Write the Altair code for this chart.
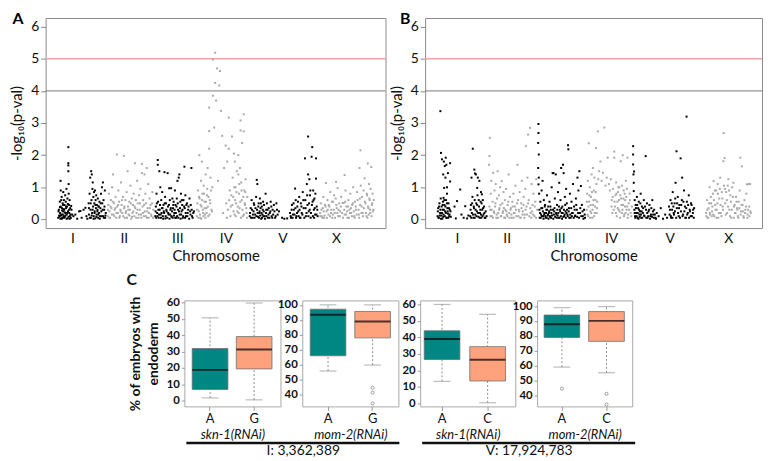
import json
import altair as alt
import pandas as pd

# ---------------- Manhattan data ----------------
CHROMS = ["I", "II", "III", "IV", "V", "X"]
SHADES = ["black", "gray", "black", "gray", "black", "gray"]
RED_LINE = 5
GRAY_LINE = 4
Y_TICKS = [0, 1, 2, 3, 4, 5, 6]
X_DOMAIN = [-3.75, 103.4]
Y_DOMAIN = [-0.27, 6.27]
A_TICK_POS = [4.68, 20.9, 37.8, 53.1, 70.9, 87.8]
B_TICK_POS = [6.4, 22.2, 38.9, 55.4, 74.0, 92.7]

A_I = [(0.2,0.05),(0.4,0.3),(0.5,0.12),(0.7,0.55),(0.8,0.2),(0.9,0.02),(0.94,1.2),(1.0,0.4),(1.0,0.9),(1.2,0.15),(1.3,0.7),
       (1.4,0.35),(1.5,0.05),(1.6,0.5),(1.7,0.25),(1.8,0.85),(1.9,0.1),(2.0,0.6),(2.1,0.3),(2.2,0.45),(2.3,0.08),(2.4,0.75),
       (2.5,0.2),(2.6,0.55),(2.7,0.35),(2.8,0.95),(2.9,0.15),(3.0,0.4),(3.1,0.65),(3.2,0.03),(3.3,0.25),(3.4,2.25),(3.4,1.75),
       (3.4,1.68),(3.4,1.5),(3.5,1.1),(3.5,0.8),(3.6,0.45),(3.7,0.2),(3.8,0.6),(3.9,0.1),(4.0,0.35),(4.2,0.05),(4.4,0.3),(4.6,0.15),
       (5.0,0.1),(5.6,0.15),(6.2,0.02),(6.8,0.25),(7.2,0.26),(7.6,0.05),(8.2,0.3),(8.8,0.36),(9.1,0.1),(9.4,0.02),
       (9.8,0.5),(9.9,0.15),(10.1,0.8),(10.3,1.3),(10.4,0.3),(10.5,0.05),(10.6,1.5),(10.7,0.6),(10.8,1.4),(10.9,0.2),(11.0,0.95),
       (11.1,1.15),(11.2,0.4),(11.3,0.7),(11.4,0.1),(11.5,0.85),(11.6,0.5),(11.7,0.25),(11.8,0.9),(11.9,0.03),(12.0,0.6),(12.1,0.35),
       (12.2,0.75),(12.3,0.15),(12.4,0.45),(12.6,0.3),(12.7,0.65),(12.8,0.05),(12.9,0.4),(13.1,0.2),(13.2,0.55),(13.4,0.1),(13.5,0.35),
       (13.7,0.8),(13.8,0.25),(14.0,1.0),(14.1,0.5),(14.3,1.15),(14.4,0.1),(14.5,0.6),(14.7,0.3),(14.9,0.9),(15.0,0.05),(15.2,0.2)]
A_I_BASE = [(0.3,0.25),(0.6,0.08),(0.75,0.38),(1.05,0.12),(1.15,0.6),(1.35,0.02),(1.45,0.28),(1.65,0.15),(1.75,0.45),(1.95,0.32),
            (2.05,0.05),(2.25,0.22),(2.45,0.12),(2.65,0.4),(2.85,0.02),(3.05,0.2),(3.25,0.48),(3.45,0.08),(3.65,0.3),(3.85,0.02),
            (4.05,0.15),(4.3,0.42),(9.9,0.35),(10.2,0.05),(10.45,0.5),(10.75,0.12),(11.05,0.3),(11.35,0.02),(11.65,0.2),(11.95,0.45),
            (12.25,0.08),(12.55,0.25),(12.85,0.15),(13.0,0.4),(13.3,0.02),(13.6,0.5),(13.9,0.1),(14.2,0.3),(14.6,0.05),(14.8,0.4),(15.1,0.12)]
A_II = [(15.8,0.1),(16.0,0.45),(16.2,0.8),(16.4,0.25),(16.6,0.05),(16.8,0.6),(17.0,0.35),(17.2,1.0),(17.5,1.4),(17.6,0.15),(17.8,0.5),
        (18.0,0.3),(18.3,0.7),(18.5,0.05),(18.7,2.02),(18.8,0.4),(19.0,0.2),(19.2,0.9),(19.4,0.55),(19.6,0.1),(19.8,0.3),(20.0,1.15),
        (20.2,0.45),(20.4,0.2),(20.6,0.7),(20.9,1.98),(21.0,0.35),(21.2,0.05),(21.4,0.6),(21.6,0.25),(21.8,0.85),(22.1,1.5),(22.2,0.4),
        (22.4,0.15),(22.6,0.55),(22.8,0.3),(23.0,1.05),(23.2,0.02),(23.4,0.65),(23.6,0.2),(23.8,0.45),(24.0,0.8),(24.2,0.1),(24.4,1.75),
        (24.5,0.35),(24.7,0.6),(24.9,0.2),(25.1,1.2),(25.3,0.5),(25.5,0.05),(25.7,0.75),(25.9,0.3),(26.1,0.95),(26.3,0.15),(26.6,1.73),
        (26.6,1.44),(26.8,0.4),(27.0,0.6),(27.2,0.1),(27.4,1.4),(27.5,0.25),(27.7,0.8),(27.9,0.5),(28.1,1.6),(28.2,0.05),(28.4,0.35),
        (28.6,1.1),(28.8,0.2),(29.0,0.65),(29.3,0.45),(29.6,0.1),(29.9,0.85),(30.2,0.3)]
A_II_BASE = [(15.9,0.3),(16.3,0.05),(16.7,0.4),(17.1,0.15),(17.4,0.55),(17.9,0.1),(18.2,0.35),(18.6,0.2),(19.1,0.45),(19.5,0.05),
             (19.9,0.25),(20.3,0.6),(20.7,0.1),(21.1,0.4),(21.5,0.2),(21.9,0.05),(22.3,0.3),(22.7,0.12),(23.1,0.5),(23.5,0.08),
             (23.9,0.25),(24.3,0.4),(24.8,0.05),(25.2,0.3),(25.6,0.15),(26.0,0.5),(26.4,0.05),(26.9,0.2),(27.3,0.45),(27.8,0.1),
             (28.3,0.25),(28.7,0.05),(29.1,0.35),(29.5,0.15),(29.8,0.5),(30.1,0.05)]
A_III = [(30.8,0.1),(31.0,0.4),(31.2,0.8),(31.4,0.2),(31.6,1.85),(31.6,1.7),(31.7,0.55),(31.9,0.05),(32.1,1.5),(32.2,0.3),(32.4,1.0),
         (32.5,0.15),(32.7,0.6),(32.9,0.35),(33.0,0.85),(33.2,0.1),(33.4,0.45),(33.6,0.2),(33.7,1.47),(33.9,0.7),(34.0,0.03),(34.2,0.5),
         (34.4,0.25),(34.7,1.44),(34.8,0.4),(35.0,0.15),(35.2,0.97),(35.4,0.6),(35.6,0.3),(35.8,0.97),(36.0,0.08),(36.2,0.65),(36.4,0.35),
         (36.6,0.55),(36.8,0.2),(37.0,0.9),(37.2,0.45),(37.4,0.05),(37.6,0.65),(37.8,1.2),(38.0,0.3),(38.2,1.3),(38.4,1.4),(38.5,0.15),
         (38.7,0.55),(38.9,0.8),(39.1,0.25),(39.3,0.45),(39.5,0.05),(39.7,0.6),(40.0,1.64),(40.1,0.35),(40.3,0.75),(40.5,0.1),(40.8,0.5),
         (41.0,0.2),(41.3,0.4),(41.6,0.65),(41.9,0.15),(42.2,1.6),(42.3,0.3),(42.6,0.05),(43.0,0.25)]
A_III_BASE = [(30.9,0.25),(31.1,0.05),(31.3,0.5),(31.5,0.1),(31.8,0.3),(32.0,0.15),(32.3,0.45),(32.6,0.05),(32.8,0.2),(33.1,0.35),
              (33.3,0.02),(33.5,0.25),(33.8,0.5),(34.1,0.1),(34.3,0.3),(34.6,0.05),(34.9,0.2),(35.1,0.45),(35.3,0.02),(35.5,0.15),
              (35.7,0.35),(35.9,0.1),(36.1,0.25),(36.3,0.05),(36.5,0.45),(36.7,0.12),(36.9,0.3),(37.1,0.05),(37.3,0.2),(37.5,0.4),
              (37.7,0.1),(37.9,0.5),(38.1,0.05),(38.3,0.25),(38.6,0.35),(38.8,0.02),(39.0,0.15),(39.2,0.6),(39.4,0.3),(39.6,0.1),
              (39.9,0.4),(40.2,0.05),(40.4,0.2),(40.6,0.45),(40.9,0.1),(41.2,0.3),(41.5,0.02),(41.8,0.25),(42.0,0.45),(42.4,0.1),(42.8,0.2)]
A_IV = [(43.9,0.1),(44.1,0.5),(44.3,0.9),(44.5,0.25),(44.7,2.0),(44.8,0.65),(45.0,0.05),(45.2,1.2),(45.4,0.4),(45.5,1.8),(45.7,0.8),
        (45.9,0.2),(46.1,1.05),(46.3,0.55),(46.5,0.15),(46.7,1.4),(46.9,0.35),(47.1,0.75),(47.3,1.6),(47.5,0.1),(47.8,2.2),(47.8,2.75),
        (47.8,3.48),(48.0,0.6),(48.2,1.3),(48.5,0.3),(48.8,1.0),(49.0,3.85),(49.0,4.98),(49.4,2.86),(49.7,5.19),(49.7,4.25),(50.0,3.7),
        (50.3,4.7),(50.6,1.2),(51.0,4.17),(51.2,4.62),(51.5,3.38),(51.9,2.6),(52.2,0.2),(52.5,1.6),(53.0,2.3),(53.4,0.05),(53.5,1.8),
        (54.0,3.17),(54.0,2.2),(54.3,0.9),(54.6,0.4),(55.0,2.58),(55.2,1.3),(55.4,0.7),(55.6,2.05),(55.8,0.15),(55.9,1.8),(56.1,1.0),
        (56.3,0.5),(56.5,1.5),(56.7,0.25),(57.0,2.0),(57.0,1.4),(57.2,0.8),(57.4,0.35),(57.5,1.6),(57.7,3.08),(57.7,2.77),(57.9,1.15),
        (58.1,0.6),(58.2,2.38),(58.4,0.1),(58.7,2.74),(58.7,3.27),(58.9,0.9),(59.1,0.45),(59.3,1.25),(59.6,0.2),(59.8,0.7)]
A_IV_BASE = [(44.0,0.3),(44.4,0.05),(44.6,0.7),(44.9,0.15),(45.1,0.45),(45.3,0.02),(45.6,0.6),(45.8,0.3),(46.0,0.1),(46.2,0.8),
             (46.4,0.35),(46.6,0.05),(46.8,0.55),(47.0,0.2),(47.2,0.95),(47.4,0.4),(47.6,0.7),(47.9,0.15),(48.1,0.5),(48.4,0.9),
             (48.7,0.25),(53.2,0.5),(53.7,0.3),(54.1,0.6),(54.5,0.1),(54.8,0.75),(55.1,0.45),(55.5,0.25),(55.7,1.0),(56.0,0.6),
             (56.2,0.1),(56.4,0.85),(56.8,0.4),(57.1,0.2),(57.3,1.1),(57.6,0.55),(57.8,0.05),(58.0,0.9),(58.3,0.3),(58.6,0.7),
             (58.8,0.15),(59.0,0.5),(59.2,0.85),(59.5,0.35),(59.7,0.05)]
A_V = [(60.6,0.1),(60.9,0.35),(61.2,0.6),(61.5,0.05),(61.8,0.25),(62.0,0.45),(62.3,0.15),(62.6,0.7),(62.8,1.23),(62.9,0.3),(63.0,1.1),
       (63.2,0.08),(63.4,0.5),(63.6,0.2),(63.8,0.65),(64.0,0.35),(64.2,0.02),(64.4,0.4),(64.6,0.15),(64.8,0.55),(65.0,0.25),(65.3,0.1),
       (65.6,0.8),(65.8,0.3),(66.0,0.5),(66.3,0.05),(66.6,0.35),(66.9,0.2),(67.2,0.55),(67.5,0.1),(67.8,0.3),(68.2,0.45),(68.6,0.05),
       (69.0,0.5),(69.4,0.15),(69.8,0.25),(70.8,0.05),(71.5,0.02),(72.4,0.03),(73.3,0.2),(73.6,0.05),(73.9,0.45),(74.2,0.15),(74.5,0.3),
       (74.9,0.96),(75.1,0.6),(75.3,0.1),(75.6,0.4),(75.9,0.25),(76.2,0.7),(76.4,0.05),(76.7,0.5),(77.0,0.2),(77.3,0.85),(77.6,0.35),
       (78.0,1.9),(78.1,0.6),(78.3,0.1),(78.6,1.1),(78.8,0.45),(79.0,2.58),(79.0,1.4),(79.2,0.25),(79.4,1.25),(79.6,0.75),(79.8,0.05),
       (80.1,1.95),(80.3,2.25),(80.4,0.55),(80.6,0.9),(80.8,0.3),(81.0,0.65),(81.2,0.15),(81.5,1.9),(81.5,1.27),(81.7,0.4),(82.0,0.1)]
A_V_BASE = [(60.7,0.2),(61.0,0.05),(61.3,0.3),(61.6,0.15),(61.9,0.5),(62.1,0.05),(62.4,0.35),(62.7,0.1),(63.1,0.2),(63.3,0.4),
            (63.5,0.05),(63.7,0.25),(63.9,0.12),(64.1,0.5),(64.3,0.2),(64.5,0.05),(64.7,0.3),(64.9,0.1),(65.1,0.45),(65.4,0.02),
            (65.7,0.2),(65.9,0.1),(66.2,0.3),(66.5,0.15),(66.8,0.05),(67.1,0.25),(67.4,0.4),(67.7,0.05),(68.0,0.15),(68.4,0.25),
            (68.8,0.1),(69.2,0.3),(73.5,0.1),(73.8,0.3),(74.1,0.05),(74.4,0.5),(74.7,0.15),(75.0,0.35),(75.2,0.05),(75.5,0.2),
            (75.8,0.55),(76.0,0.1),(76.3,0.3),(76.6,0.05),(76.9,0.4),(77.2,0.15),(77.5,0.6),(77.8,0.05),(78.2,0.35),(78.5,0.2),
            (78.7,0.75),(79.1,0.1),(79.3,0.5),(79.5,0.3),(79.7,0.9),(79.9,0.2),(80.2,0.45),(80.5,0.1),(80.7,0.6),(80.9,0.05),
            (81.1,0.35),(81.3,0.8),(81.6,0.15),(81.9,0.3)]
A_X = [(82.8,0.2),(83.0,0.5),(83.3,0.1),(83.6,0.35),(83.8,0.7),(84.0,0.05),(84.3,0.45),(84.6,1.13),(84.8,0.25),(85.1,0.6),(85.4,0.15),
       (85.7,0.4),(86.0,0.85),(86.3,0.3),(86.6,0.05),(86.9,0.55),(87.2,0.75),(87.4,0.2),(87.7,0.65),(87.8,1.17),(88.0,0.35),(88.3,0.97),
       (88.5,0.1),(88.8,0.5),(89.1,0.25),(89.4,0.7),(89.9,0.51),(90.2,0.51),(90.5,1.38),(90.5,0.15),(90.8,0.9),(91.1,0.4),(91.4,0.05),
       (91.7,0.6),(92.0,0.3),(92.3,0.8),(92.6,0.2),(92.9,0.45),(93.2,1.0),(93.5,0.1),(93.8,0.55),(94.1,0.3),(94.4,0.85),(95.2,1.6),
       (95.5,2.15),(95.0,0.15),(95.3,0.65),(95.6,1.05),(95.9,0.4),(96.2,0.2),(96.5,0.9),(96.8,1.28),(97.1,0.5),(97.4,0.1),(97.6,0.75),
       (97.8,1.74),(98.0,0.35),(98.2,1.1),(98.4,0.6),(98.6,0.2),(98.9,1.63),(99.1,0.45),(99.3,0.8),(99.6,0.3)]
A_X_BASE = [(82.9,0.1),(83.2,0.3),(83.5,0.05),(83.9,0.25),(84.2,0.12),(84.5,0.4),(84.9,0.05),(85.2,0.3),(85.5,0.45),(85.9,0.1),
            (86.2,0.2),(86.5,0.55),(86.8,0.15),(87.1,0.3),(87.5,0.05),(87.9,0.45),(88.2,0.2),(88.6,0.3),(89.0,0.1),(89.3,0.4),
            (89.7,0.2),(90.0,0.05),(90.4,0.3),(90.7,0.55),(91.0,0.15),(91.3,0.25),(91.6,0.4),(91.9,0.05),(92.2,0.2),(92.5,0.35),
            (92.8,0.1),(93.1,0.5),(93.4,0.25),(93.7,0.05),(94.0,0.4),(94.3,0.15),(94.6,0.6),(94.9,0.3),(95.1,0.05),(95.4,0.45),
            (95.8,0.2),(96.0,0.7),(96.3,0.1),(96.6,0.35),(96.9,0.55),(97.2,0.2),(97.5,0.8),(97.7,0.05),(97.9,0.4),(98.1,0.15),
            (98.3,0.65),(98.5,0.3),(98.7,0.95),(99.0,0.1),(99.2,0.5),(99.4,0.25),(99.7,0.6)]

B_I = [(1.1,3.37),(1.3,2.07),(1.6,1.87),(2.2,1.8),(2.5,1.66),(2.8,1.92),(3.0,1.7),(2.0,1.4),(2.7,1.3),(2.3,0.98),(3.2,0.8),(2.1,0.67),
       (4.2,1.75),(3.5,1.44),(4.2,1.18),(3.2,1.0),
       (0.2,0.1),(0.4,0.35),(0.6,0.05),(0.8,0.5),(1.0,0.2),(1.2,0.65),(1.4,0.12),(1.5,0.4),(1.7,0.02),(1.8,0.3),(1.9,0.55),(2.1,0.15),
       (2.4,0.45),(2.6,0.25),(2.9,0.6),(3.1,0.05),(3.3,0.35),(3.5,0.18),(3.7,0.5),(3.9,0.1),(4.1,0.3),(4.4,0.08),
       (5.6,0.4),(6.0,0.03),(6.4,0.57),(7.4,0.93),(7.8,0.15),(8.5,0.05),(9.0,0.41),(9.6,0.03),(10.0,0.12),
       (11.4,2.2),(11.9,1.55),(12.4,1.4),(13.0,1.3),(11.0,1.3),(12.8,0.98),(13.5,1.2),(14.0,0.85),(14.3,0.78),(12.1,1.43),
       (10.6,0.1),(10.8,0.45),(11.1,0.2),(11.3,0.7),(11.6,0.05),(11.8,0.35),(12.0,0.6),(12.2,0.15),(12.5,0.5),(12.7,0.25),(12.9,0.75),
       (13.2,0.08),(13.4,0.4),(13.7,0.2),(13.9,0.55),(14.1,0.05),(14.4,0.3),(14.6,0.6),(14.8,0.15),(15.0,0.4),(15.2,0.05),(15.5,0.25),(15.8,0.1)]
B_I_BASE = [(0.3,0.25),(0.5,0.05),(0.7,0.4),(0.9,0.12),(1.1,0.3),(1.3,0.02),(1.6,0.2),(1.85,0.45),(2.0,0.08),(2.2,0.3),(2.35,0.6),
            (2.5,0.1),(2.7,0.4),(2.85,0.2),(3.0,0.05),(3.2,0.5),(3.4,0.25),(3.6,0.05),(3.8,0.35),(4.0,0.15),(4.3,0.25),
            (10.7,0.3),(10.9,0.05),(11.2,0.5),(11.5,0.15),(11.7,0.4),(12.0,0.05),(12.3,0.3),(12.6,0.1),(12.8,0.45),(13.1,0.2),
            (13.3,0.6),(13.6,0.05),(13.8,0.3),(14.0,0.15),(14.2,0.5),(14.5,0.1),(14.7,0.35),(15.1,0.2),(15.4,0.05)]
B_II = [(16.6,1.7),(16.7,1.97),(16.8,2.54),(16.9,0.3),(17.1,0.8),(17.3,1.2),(17.5,0.1),(17.7,0.55),(17.9,1.45),(18.1,0.25),(18.3,0.9),
        (18.5,0.4),(18.7,1.1),(18.9,0.05),(19.1,0.65),(19.3,1.5),(19.5,0.2),(19.7,0.75),(19.9,0.35),(20.1,1.0),(20.3,0.1),(20.6,1.19),
        (20.8,0.5),(21.0,0.25),(21.2,0.85),(21.4,0.05),(21.6,0.6),(21.8,0.3),(22.0,0.95),(22.2,0.15),(22.5,0.45),(22.8,1.4),(23.0,0.2),
        (23.2,0.7),(23.5,0.35),(23.8,0.05),(24.0,0.55),(24.3,0.8),(24.5,0.2),(24.8,0.4),(25.0,1.05),(25.3,0.1),(25.6,1.7),(25.8,0.6),
        (26.0,0.3),(26.3,0.85),(26.5,0.05),(26.8,0.5),(27.0,1.2),(27.3,0.25),(27.6,0.7),(27.9,0.15),(28.1,0.95),(28.3,2.28),(28.5,0.4),
        (28.8,1.3),(29.0,2.64),(29.2,0.6),(29.6,2.85),(29.8,0.2),(30.1,1.1),(30.4,0.45),(30.7,0.8),(31.0,0.1),(31.3,0.55),(31.6,1.25),(31.9,0.3)]
B_II_BASE = [(16.7,0.4),(17.0,0.1),(17.4,0.3),(17.8,0.05),(18.2,0.2),(18.6,0.5),(19.0,0.15),(19.4,0.05),(19.8,0.3),(20.2,0.45),
             (20.5,0.1),(20.9,0.2),(21.3,0.35),(21.7,0.05),(22.1,0.25),(22.4,0.1),(22.7,0.55),(23.1,0.05),(23.4,0.3),(23.7,0.15),
             (24.1,0.4),(24.4,0.05),(24.7,0.2),(25.1,0.3),(25.5,0.5),(25.9,0.1),(26.2,0.25),(26.6,0.05),(26.9,0.35),(27.2,0.15),
             (27.5,0.45),(27.8,0.05),(28.2,0.3),(28.6,0.15),(29.0,0.5),(29.4,0.1),(29.7,0.35),(30.0,0.05),(30.3,0.25),(30.6,0.15),
             (31.1,0.4),(31.5,0.05)]
B_III = [(32.2,1.6),(32.2,2.38),(32.3,2.97),(32.3,2.69),(32.3,1.09),(32.4,2.02),(32.4,1.3),(32.5,0.8),(32.6,0.3),(32.7,0.05),(32.9,0.55),
         (33.1,0.15),(33.3,0.9),(33.5,0.35),(33.6,1.2),(33.8,0.1),(34.0,0.6),(34.2,0.2),(34.4,0.45),(34.6,0.05),(34.8,0.3),(35.0,0.75),
         (35.2,0.12),(35.4,0.4),(35.6,0.2),(35.8,0.55),(36.0,0.08),(36.2,0.3),(36.5,1.0),(36.8,1.44),(37.1,1.44),(37.3,0.25),(37.5,0.65),
         (37.8,1.4),(38.0,0.15),(38.2,0.45),(38.5,0.85),(38.7,0.05),(38.9,1.14),(39.1,0.3),(39.3,0.6),(39.5,1.6),(39.7,0.2),(39.9,0.4),
         (40.1,1.7),(40.3,1.44),(40.5,0.1),(40.7,0.7),(40.9,0.25),(41.1,0.95),(41.3,0.5),(41.5,0.15),(41.7,2.31),(41.8,2.18),(42.0,0.35),
         (42.3,0.8),(42.5,0.05),(42.8,0.55),(43.0,0.2),(43.3,1.1),(43.6,0.4),(43.9,0.1),(44.2,0.65),(44.5,0.3),(44.7,1.3),(45.0,0.9),
         (45.3,1.5),(45.5,0.2),(45.8,1.04),(46.1,0.45),(46.4,0.1),(46.8,0.3),(47.1,0.05)]
B_III_BASE = [(32.8,0.2),(33.0,0.05),(33.2,0.35),(33.4,0.1),(33.7,0.25),(33.9,0.02),(34.1,0.15),(34.3,0.4),(34.5,0.1),(34.7,0.2),
              (34.9,0.05),(35.1,0.3),(35.3,0.15),(35.5,0.02),(35.7,0.25),(35.9,0.1),(36.1,0.4),(36.3,0.05),(36.4,0.2),(36.6,0.12),
              (36.9,0.3),(37.0,0.02),(37.2,0.15),(37.4,0.35),(37.6,0.08),(37.9,0.2),(38.1,0.05),(38.3,0.3),(38.4,0.12),(38.6,0.2),
              (38.8,0.4),(39.0,0.05),(39.2,0.25),(39.4,0.1),(39.6,0.35),(39.8,0.02),(40.0,0.2),(40.2,0.08),(40.4,0.3),(40.6,0.15),
              (40.8,0.45),(41.0,0.05),(41.2,0.2),(41.4,0.3),(41.6,0.1),(41.9,0.25),(42.1,0.05),(42.4,0.15),(42.7,0.35),(42.9,0.1),
              (43.2,0.2),(43.5,0.05),(43.8,0.3),(44.0,0.12),(44.3,0.45),(44.6,0.08),(44.9,0.2),(45.2,0.05),(45.6,0.35),(45.9,0.1),
              (46.3,0.25),(46.6,0.02),(47.0,0.15)]
B_IV = [(47.6,0.3),(47.8,0.8),(48.0,1.2),(48.1,0.1),(48.3,2.37),(48.4,0.55),(48.6,1.0),(48.8,0.25),(49.0,0.7),(49.2,1.4),(49.4,0.05),
        (49.6,1.6),(49.7,0.45),(49.9,0.9),(50.1,1.3),(50.2,0.2),(50.4,0.6),(50.6,2.22),(50.7,1.1),(50.9,0.35),(51.2,2.74),(51.3,1.25),
        (51.6,1.5),(52.0,1.8),(52.4,1.2),(52.8,1.45),(53.25,2.86),(53.6,1.05),(54.0,1.3),(54.3,1.92),(54.7,1.1),(55.0,0.9),(55.3,1.25),
        (55.6,0.6),(55.8,0.2),(56.0,0.95),(56.4,2.11),(56.4,1.92),(56.6,0.4),(56.8,0.75),(57.0,1.15),(57.2,0.1),(57.4,0.55),(57.6,0.85),
        (57.8,0.3),(58.0,1.0),(58.2,0.05),(58.5,1.81),(58.6,0.65),(58.8,0.2),(59.1,2.0),(59.2,0.45),(59.4,0.9),(59.6,0.15),(59.9,0.6),
        (60.1,1.2),(60.3,0.3),(60.6,1.92),(60.7,0.05),(61.0,0.5),(61.3,0.8),(61.6,0.2),(62.0,0.4)]
B_IV_BASE = [(47.7,0.55),(47.9,0.15),(48.2,0.4),(48.5,0.75),(48.7,0.05),(48.9,0.45),(49.1,0.2),(49.3,0.85),(49.5,0.3),(49.8,0.6),
             (50.0,0.1),(50.3,0.4),(50.5,0.85),(50.8,0.2),(51.0,0.55),(55.5,0.4),(55.9,0.7),(56.2,0.3),(56.5,0.55),(56.9,0.2),
             (57.1,0.8),(57.5,0.35),(57.7,1.0),(57.9,0.6),(58.1,0.25),(58.3,0.75),(58.7,0.45),(58.9,1.05),(59.0,0.3),(59.3,0.65),
             (59.5,0.1),(59.7,0.8),(59.8,0.4),(60.0,0.2),(60.2,0.7),(60.4,0.95),(60.5,0.4),(60.8,0.15),(61.1,0.3),(61.4,0.6),(61.8,0.1)]
B_V = [(62.4,2.28),(62.4,2.02),(62.4,1.71),(62.5,1.4),(62.6,1.14),(62.6,0.88),(62.7,1.49),(62.8,0.3),(62.9,0.6),(63.0,0.1),(63.2,0.45),
       (63.4,0.2),(63.6,0.7),(63.8,0.05),(64.0,0.35),(64.2,0.55),(64.4,0.15),(64.6,0.25),(64.8,0.8),(65.0,0.05),(65.2,0.4),(65.5,0.2),
       (65.8,0.6),(66.0,0.1),(66.4,1.97),(66.5,0.3),(66.8,0.5),(67.0,0.05),(67.3,0.25),(67.6,0.45),(67.9,0.1),(68.2,0.35),(68.5,0.6),
       (68.8,0.15),(69.1,0.3),(69.5,0.05),(69.9,0.2),(70.5,0.1),(71.2,0.35),(71.9,0.02),(72.6,0.15),(73.2,0.05),(73.8,0.4),(74.0,0.15),
       (74.3,0.6),(74.5,0.05),(74.8,0.3),(75.0,0.85),(75.3,0.2),(75.6,0.5),(75.9,1.14),(76.2,2.12),(76.3,0.35),(76.6,0.7),(76.9,0.1),
       (77.1,0.45),(77.5,1.9),(77.6,0.25),(77.9,0.6),(78.0,1.3),(78.3,0.15),(78.6,0.9),(78.9,0.4),(79.2,0.05),(79.4,3.2),(79.5,0.55),
       (79.8,0.2),(80.1,0.75),(80.4,0.3),(80.7,0.1),(81.0,0.45),(81.4,0.2),(81.8,0.35)]
B_V_BASE = [(62.9,0.2),(63.1,0.05),(63.3,0.35),(63.5,0.1),(63.7,0.45),(63.9,0.2),(64.1,0.02),(64.3,0.3),(64.5,0.08),(64.7,0.5),
            (64.9,0.15),(65.1,0.25),(65.3,0.05),(65.6,0.35),(65.9,0.12),(66.2,0.4),(66.6,0.05),(66.9,0.2),(67.2,0.1),(67.5,0.3),
            (67.8,0.02),(68.1,0.15),(68.4,0.08),(68.7,0.25),(69.0,0.05),(69.3,0.15),(69.7,0.02),
            (74.1,0.3),(74.4,0.1),(74.7,0.5),(74.9,0.05),(75.2,0.4),(75.4,0.15),(75.7,0.25),(75.8,0.65),(76.1,0.05),(76.4,0.5),
            (76.7,0.2),(77.0,0.35),(77.3,0.05),(77.7,0.45),(78.1,0.1),(78.4,0.55),(78.7,0.25),(79.0,0.05),(79.3,0.35),(79.6,0.15),
            (79.9,0.45),(80.2,0.05),(80.5,0.25),(80.8,0.5),(81.1,0.1),(81.5,0.3),(81.7,0.05)]
B_X = [(85.6,0.2),(85.9,0.6),(86.1,0.05),(86.4,0.35),(86.7,1.0),(86.9,0.15),(87.2,0.5),(87.5,0.25),(87.8,0.8),(88.0,1.19),(88.2,0.1),
       (88.5,0.45),(88.8,0.9),(89.0,0.3),(89.3,1.1),(89.5,0.05),(89.8,0.65),(90.1,1.3),(90.3,0.2),(90.6,0.85),(90.9,0.4),(91.1,1.81),
       (91.2,2.69),(91.5,1.91),(91.6,0.95),(91.9,0.15),(92.2,0.6),(92.5,1.05),(92.7,1.25),(93.0,0.3),(93.3,0.75),(93.6,0.05),(93.9,1.0),
       (94.3,1.14),(94.5,0.4),(94.8,0.2),(95.1,0.7),(95.4,0.35),(95.7,0.1),(96.0,0.55),(96.3,0.9),(96.5,1.92),(96.7,0.25),(97.0,1.65),
       (97.2,0.45),(97.5,0.1),(97.8,0.6),(98.1,0.3),(98.4,0.8),(98.6,1.09),(98.8,0.15),(99.1,1.1),(99.3,0.4),(99.6,1.1),(99.8,0.2)]
B_X_BASE = [(85.7,0.1),(86.0,0.3),(86.3,0.05),(86.6,0.5),(86.8,0.2),(87.1,0.7),(87.4,0.1),(87.6,0.4),(87.9,0.15),(88.1,0.6),
            (88.4,0.9),(88.6,0.3),(88.9,0.05),(89.2,0.5),(89.4,0.8),(89.7,0.2),(90.0,0.95),(90.2,0.45),(90.5,0.1),(90.8,0.65),
            (91.0,0.3),(91.3,1.05),(91.7,0.5),(92.0,0.85),(92.3,0.2),(92.6,0.4),(92.9,0.9),(93.2,0.1),(93.5,0.55),(93.8,0.3),
            (94.1,0.7),(94.4,0.05),(94.7,0.45),(95.0,0.2),(95.3,0.55),(95.6,0.3),(95.9,0.05),(96.2,0.35),(96.6,0.15),(96.9,0.45),
            (97.3,0.25),(97.6,0.05),(98.0,0.2),(98.3,0.4),(98.7,0.05),(99.0,0.3),(99.4,0.1),(99.7,0.25)]

A_POINTS = [A_I + A_I_BASE, A_II + A_II_BASE, A_III + A_III_BASE, A_IV + A_IV_BASE, A_V + A_V_BASE, A_X + A_X_BASE]
B_POINTS = [B_I + B_I_BASE, B_II + B_II_BASE, B_III + B_III_BASE, B_IV + B_IV_BASE, B_V + B_V_BASE, B_X + B_X_BASE]

# ---------------- Box plot data ----------------
BOX_GENE = ["skn-1(RNAi)", "mom-2(RNAi)", "skn-1(RNAi)", "mom-2(RNAi)"]
BOX_ALLELES = [["A", "G"], ["A", "G"], ["A", "C"], ["A", "C"]]
BOX_LO = [[1.6, 0.4], [55.7, 59.7], [13.4, 0.4], [59.2, 55.4]]
BOX_Q1 = [[6.8, 19.4], [65.9, 77.9], [26.6, 13.6], [79.0, 76.4]]
BOX_MED = [[18.8, 31.3], [93.4, 88.9], [39.0, 26.4], [87.9, 90.1]]
BOX_Q3 = [[31.9, 39.2], [97.1, 95.6], [44.0, 34.4], [94.0, 96.3]]
BOX_HI = [[50.7, 59.8], [100.0, 100.0], [60.0, 54.0], [98.9, 99.6]]
OUTLIERS = [[], [("G", 44.5), ("G", 41.2), ("G", 34.0)], [], [("A", 44.8), ("C", 41.3), ("C", 34.2)]]
BOX_DOMAINS = [[-3.6, 61.4], [32.0, 103.0], [-1.8, 62.4], [32.9, 103.8]]
BOX_TICKS = [[0, 10, 20, 30, 40, 50, 60], [40, 50, 60, 70, 80, 90, 100],
             [0, 10, 20, 30, 40, 50, 60], [40, 50, 60, 70, 80, 90, 100]]
SNP_LABELS = ["I: 3,362,389", "V: 17,924,783"]
Y_TITLE_C = ["% of embryos with", "endoderm"]

TEAL = "#008783"
SALMON = "#fda27c"
FONT = "Lato"


def manhattan_df(points):
    rows = []
    for chrom, shade, pts in zip(CHROMS, SHADES, points):
        for p, v in pts:
            rows.append({"chrom": chrom, "shade": shade, "pos": p, "val": v})
    return pd.DataFrame(rows)


def manhattan(points, tick_pos, letter, lx, ly, width):
    df = manhattan_df(points)
    xscale = alt.Scale(domain=X_DOMAIN, nice=False, zero=False)
    yscale = alt.Scale(domain=Y_DOMAIN, nice=False, zero=False)
    expr = "%s[indexof(%s, datum.value)]" % (json.dumps(CHROMS), json.dumps(tick_pos))
    xaxis = alt.Axis(values=tick_pos, labelExpr=expr, title="Chromosome", grid=False, domain=False,
                     ticks=False, labelFontSize=14, labelPadding=4, titleFontSize=15,
                     titleFontWeight="normal", titlePadding=3, labelColor="#111", titleColor="#111")
    yaxis = alt.Axis(values=Y_TICKS, title="-log\u2081\u2080(p-val)", grid=False, domain=False, tickSize=5,
                     tickColor="#888", labelFontSize=14, labelPadding=2, titleFontSize=15,
                     titleFontWeight="normal", titlePadding=6, labelColor="#111", titleColor="#111")
    pts = alt.Chart(df).mark_square(size=4, opacity=1).encode(
        x=alt.X("pos:Q", scale=xscale, axis=xaxis),
        y=alt.Y("val:Q", scale=yscale, axis=yaxis),
        color=alt.Color("shade:N", scale=alt.Scale(domain=["black", "gray"], range=["#000000", "#a8a8a8"]),
                        legend=None),
    )
    red = alt.Chart(pd.DataFrame({"y": [RED_LINE]})).mark_rule(color="#f2a4a4", strokeWidth=1.6).encode(
        y=alt.Y("y:Q", scale=yscale, axis=yaxis))
    gray = alt.Chart(pd.DataFrame({"y": [GRAY_LINE]})).mark_rule(color="#777777", strokeWidth=1).encode(
        y=alt.Y("y:Q", scale=yscale, axis=yaxis))
    lab = alt.Chart(pd.DataFrame({"t": [letter]})).mark_text(
        fontSize=16, fontWeight="bold", align="center", baseline="middle", color="#000").encode(
        x=alt.value(lx), y=alt.value(ly), text="t:N")
    return alt.layer(red, gray, pts, lab).properties(
        width=width, height=212, view=alt.ViewBackground(stroke="#8a8a8a", strokeWidth=1))


def boxpanel(i, width, pinner, pouter, align, ytitle, extras):
    df = pd.DataFrame({
        "allele": BOX_ALLELES[i], "lo": BOX_LO[i], "q1": BOX_Q1[i], "med": BOX_MED[i],
        "q3": BOX_Q3[i], "hi": BOX_HI[i], "fill": [TEAL, SALMON]})
    xscale = alt.Scale(domain=BOX_ALLELES[i], paddingInner=pinner, paddingOuter=pouter, align=align)
    xaxis = alt.Axis(title=BOX_GENE[i], titleFontStyle="italic", titleFontWeight="normal", titleFontSize=13,
                     labelAngle=0, labelFontSize=13, tickSize=4, tickColor="#999", domain=False,
                     labelPadding=2, titlePadding=3, labelColor="#111", titleColor="#111")
    yscale = alt.Scale(domain=BOX_DOMAINS[i], nice=False, zero=False)
    if ytitle:
        yaxis = alt.Axis(values=BOX_TICKS[i], title=ytitle, labelFontWeight="bold", labelFontSize=11.5,
                         tickSize=3, tickColor="#999", domain=False, grid=False, labelPadding=2,
                         titleFontSize=14, titleFontWeight="bold", titlePadding=6, titleLineHeight=18,
                         labelColor="#111", titleColor="#111")
    else:
        yaxis = alt.Axis(values=BOX_TICKS[i], title=None, labelFontWeight="bold", labelFontSize=11.5,
                         tickSize=3, tickColor="#999", domain=False, grid=False, labelPadding=2,
                         labelColor="#111")

    def X():
        return alt.X("allele:N", scale=xscale, axis=xaxis)

    def Y(f):
        return alt.Y(f + ":Q", scale=yscale, axis=yaxis)

    base = alt.Chart(df)
    layers = [
        base.mark_rule(color="#8c8c8c", strokeDash=[2, 2], strokeWidth=1).encode(x=X(), y=Y("lo"), y2=alt.Y2("hi")),
        base.mark_bar(stroke="#707070", strokeWidth=0.8).encode(x=X(), y=Y("q1"), y2=alt.Y2("q3"),
                                                               color=alt.Color("fill:N", scale=None)),
        base.mark_tick(color="#8c8c8c", size=17, thickness=1).encode(x=X(), y=Y("lo")),
        base.mark_tick(color="#8c8c8c", size=17, thickness=1).encode(x=X(), y=Y("hi")),
        base.mark_tick(color="#000000", size=36, thickness=2).encode(x=X(), y=Y("med")),
    ]
    if OUTLIERS[i]:
        odf = pd.DataFrame({"allele": [a for a, _ in OUTLIERS[i]], "v": [v for _, v in OUTLIERS[i]]})
        layers.append(alt.Chart(odf).mark_point(shape="circle", size=10, color="#888", filled=False,
                                                strokeWidth=0.8, opacity=1).encode(x=X(), y=Y("v")))
    layers.extend(extras)
    return alt.layer(*layers).properties(width=width, height=107,
                                         view=alt.ViewBackground(stroke="#a8a8a8", strokeWidth=1))


def annot_text(t, x, y, size, weight="normal"):
    return alt.Chart(pd.DataFrame({"t": [t]})).mark_text(
        fontSize=size, fontWeight=weight, align="center", baseline="middle", color="#111").encode(
        x=alt.value(x), y=alt.value(y), text="t:N")


def underline(y):
    return alt.Chart(pd.DataFrame({"v": [0]})).mark_rule(color="#111", strokeWidth=2.5).encode(
        x=alt.value(2), x2=alt.value(217), y=alt.value(y))


chartA = manhattan(A_POINTS, A_TICK_POS, "A", -28, 1, 343)
chartB = manhattan(B_POINTS, B_TICK_POS, "B", -20, 1, 340)
top = alt.hconcat(chartA, chartB, spacing=40, bounds="flush")

b1 = boxpanel(0, 97, 0.19, 0.185, 0.48, Y_TITLE_C,
              [annot_text("C", -53, -21, 16, "bold"), underline(144), annot_text(SNP_LABELS[0], 120, 152, 14)])
b2 = boxpanel(1, 97, 0.2, 0.178, 0.5, None, [])
b3 = boxpanel(2, 96, 0.217, 0.152, 0.29, None,
              [underline(144), annot_text(SNP_LABELS[1], 110, 152, 14)])
b4 = boxpanel(3, 96, 0.2, 0.167, 0.47, None, [])

spacer = alt.Chart(pd.DataFrame({"v": [0]})).mark_rule(strokeOpacity=0).encode(
    x=alt.value(1), x2=alt.value(2), y=alt.value(1)).properties(
    width=118, height=20, view=alt.ViewBackground(stroke="transparent"))

bottom = alt.hconcat(spacer, b1, b2, b3, b4, spacing=22, bounds="flush")

chart = alt.vconcat(top, bottom, spacing=6).properties(
    padding={"left": 1, "top": 0, "right": 0, "bottom": 0}).configure(font=FONT)

chart.save("out.html", embed_options={"renderer": "svg", "actions": False})
